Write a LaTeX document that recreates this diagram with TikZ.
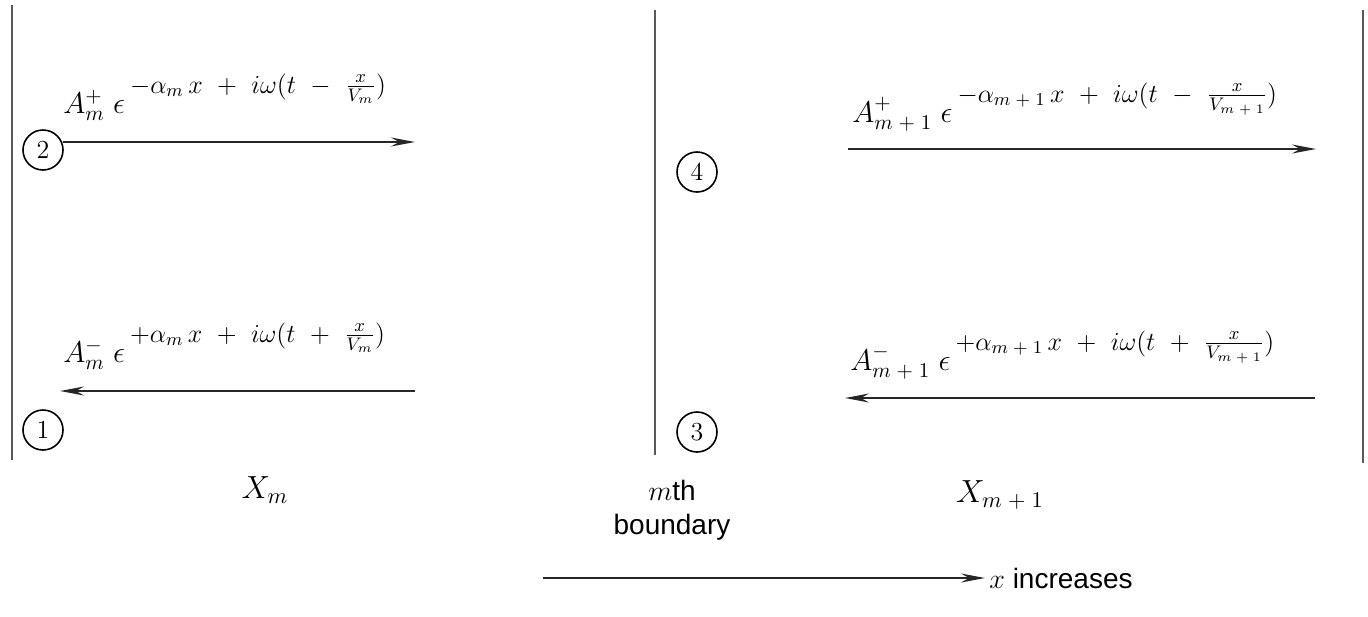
\RequirePackage{fix-cm}
\documentclass[tikz,border=0pt]{standalone}
\usepackage{fontspec}
\setsansfont{Liberation Sans}
\usepackage{amsmath}
\usetikzlibrary{arrows.meta}

% exponent set in text style, raised above the base line
\newcommand{\expo}[1]{\raisebox{10pt}{\fontsize{13}{15}\selectfont$\medmuskip=10mu #1$}}
\newcommand{\mone}{m\;{+}\;1}

\begin{document}
\begin{tikzpicture}[
        x=0.5pt, y=-0.5pt,
        >={Stealth[length=12pt, width=4.5pt, inset=4pt]},
        wave/.style={->, line width=0.9pt, black!85},
        wall/.style={line width=0.9pt, black!65},
        num/.style={circle, draw, line width=0.8pt, minimum size=20pt, inner sep=0pt, font=\fontsize{13}{15}\selectfont},
        amp/.style={anchor=base west, inner sep=0pt, font=\fontsize{15}{18}\selectfont},
        region/.style={font=\fontsize{16}{19}\selectfont},
        note/.style={font=\sffamily\fontsize{14}{17}\selectfont}
    ]
    \useasboundingbox (0,0) rectangle (1368,616);

    % Boundaries
    \draw[wall] (12,5) -- (12,460);
    \draw[wall] (655,10) -- (655,455);
    \draw[wall] (1363,10) -- (1363,463);

    % Numbered waves
    \node[num] (n2) at (43,150) {2};
    \node[num] (n1) at (43,430) {1};
    \node[num] (n4) at (697,172) {4};
    \node[num] (n3) at (697,432) {3};

    % Layer m
    \coordinate (pmL) at (63,142);  \coordinate (pmR) at (415,142);
    \coordinate (qmL) at (60,391);  \coordinate (qmR) at (415,391);
    \draw[wave] (pmL) -- (pmR);
    \draw[wave] (qmR) -- (qmL);
    \node[amp] (Apm) at (63,113) {$A^{+}_{m}\;\epsilon\,$\expo{-\alpha_m\, x + i\omega(t - \frac{x}{V_m})}};
    \node[amp] (Amm) at (63,362) {$A^{-}_{m}\;\epsilon\,$\expo{+\alpha_m\, x + i\omega(t + \frac{x}{V_m})}};

    % Layer m+1
    \coordinate (pnL) at (848,149); \coordinate (pnR) at (1316,149);
    \coordinate (qnL) at (845,398); \coordinate (qnR) at (1315,398);
    \draw[wave] (pnL) -- (pnR);
    \draw[wave] (qnR) -- (qnL);
    \node[amp] (Apn) at (852,122) {$A^{+}_{\mone}\;\epsilon\,$\expo{-\alpha_{\mone}\, x + i\omega(t - \frac{x}{V_{\mone}})}};
    \node[amp] (Amn) at (850,370) {$A^{-}_{\mone}\;\epsilon\,$\expo{+\alpha_{\mone}\, x + i\omega(t + \frac{x}{V_{\mone}})}};

    % Labels below
    \node[region] (Xm) at (265,490) {$X_m$};
    \node[note, align=center] (bnd) at (672,510) {$m$th\\boundary};
    \node[region] (Xn) at (1000,495) {$X_{\mone}$};

    % Direction of x
    \coordinate (dirL) at (543,578);
    \node[note, anchor=west, inner sep=2pt] (dir) at (985,578) {$x$ increases};
    \draw[wave] (dirL) -- (dir.west);
\end{tikzpicture}
\end{document}
